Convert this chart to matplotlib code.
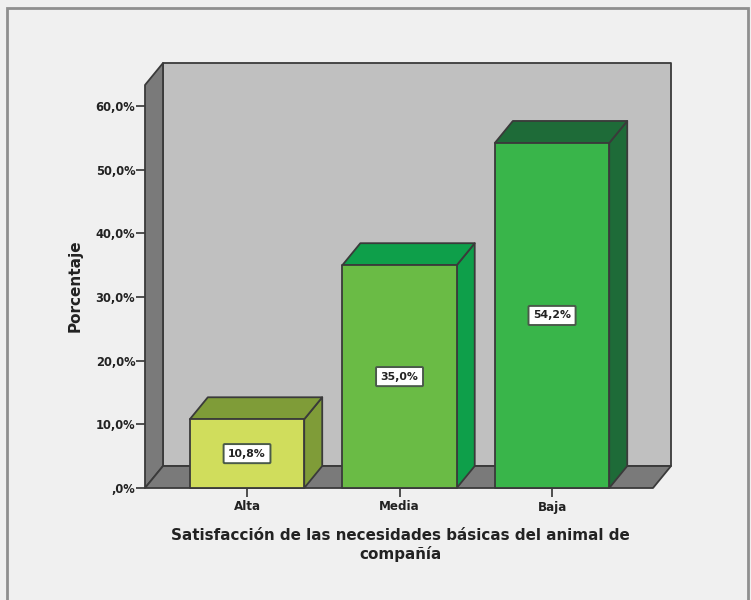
import matplotlib
matplotlib.use('Agg')
import matplotlib.pyplot as plt
from matplotlib.patches import Polygon, Rectangle

plt.rcParams['font.family'] = ['DejaVu Sans']

categories = ['Alta', 'Media', 'Baja']
values = [10.8, 35.0, 54.2]
value_labels = ['10,8%', '35,0%', '54,2%']
y_ticks = [0, 10, 20, 30, 40, 50, 60]
y_tick_labels = [',0%', '10,0%', '20,0%', '30,0%', '40,0%', '50,0%', '60,0%']
front_colors = ['#d0dd5c', '#6abb45', '#39b54a']
side_colors = ['#7f9c38', '#0e9f4a', '#1e6b38']

W, H = 751, 600
fig = plt.figure(figsize=(W / 100, H / 100), dpi=100, facecolor='#f0f0f0')
# front plane of the 3d box, in pixels
left, right, bottom, top = 145, 653, 488, 85
ax = fig.add_axes([left / W, 1 - bottom / H, (right - left) / W, (bottom - top) / H])
ax.patch.set_visible(False)

ax.set_xlim(-0.669, 2.662)
ax.set_ylim(0, 63.3)
dx, dy = 0.118, 3.45  # depth of the box
bar_w = 0.75
x0, x1 = ax.get_xlim()
y1 = ax.get_ylim()[1]
edge = '#3a3a3a'
text_color = '#222222'


def poly(pts, color, z):
    ax.add_patch(Polygon(pts, closed=True, facecolor=color, edgecolor=edge, lw=1.3,
                         joinstyle='round', clip_on=False, zorder=z))


# walls and floor
poly([(x0 + dx, dy), (x1 + dx, dy), (x1 + dx, y1 + dy), (x0 + dx, y1 + dy)], '#c0c0c0', 1)
poly([(x0, 0), (x0 + dx, dy), (x0 + dx, y1 + dy), (x0, y1)], '#7a7a7a', 2)
poly([(x0, 0), (x1, 0), (x1 + dx, dy), (x0 + dx, dy)], '#7a7a7a', 2)

# bars
for i, v in enumerate(values):
    a, b = i - bar_w / 2, i + bar_w / 2
    poly([(b, 0), (b + dx, dy), (b + dx, v + dy), (b, v)], side_colors[i], 3)
    poly([(a, v), (b, v), (b + dx, v + dy), (a + dx, v + dy)], side_colors[i], 3)
    poly([(a, 0), (b, 0), (b, v), (a, v)], front_colors[i], 4)
    ax.text(i, v / 2, value_labels[i], ha='center', va='center', fontsize=7.8,
            fontweight='bold', color=text_color, zorder=5,
            bbox=dict(boxstyle='round,pad=0.42,rounding_size=0.1', facecolor='white',
                      edgecolor='#4a5a4a', lw=1.4))

for s in ax.spines.values():
    s.set_visible(False)
ax.set_xticks(range(len(categories)))
ax.set_xticklabels(categories, fontsize=8.6, fontweight='bold', color=text_color)
ax.set_yticks(y_ticks)
ax.set_yticklabels(y_tick_labels, fontsize=8.3, fontweight='bold', color=text_color)
ax.tick_params(axis='x', length=6.5, width=1.2, color='#333333', pad=2.5)
ax.tick_params(axis='y', length=6.5, width=1.2, color='#333333', pad=0.5)

fig.text(400 / W, 1 - 545 / H, 'Satisfacción de las necesidades básicas del animal de\ncompañía',
         ha='center', va='center', fontsize=10.9, fontweight='bold', color=text_color,
         linespacing=1.3)
fig.text(75 / W, 1 - 286 / H, 'Porcentaje', rotation=90, ha='center', va='center',
         fontsize=11, fontweight='bold', color=text_color)

# frame of the chart window
fig.add_artist(Rectangle((7 / W, -0.01), 741 / W, 1.01 - 8 / H, transform=fig.transFigure,
                         fill=False, edgecolor='#8f8f8f', lw=2))

fig.savefig('out.png', dpi=100, facecolor=fig.get_facecolor())
